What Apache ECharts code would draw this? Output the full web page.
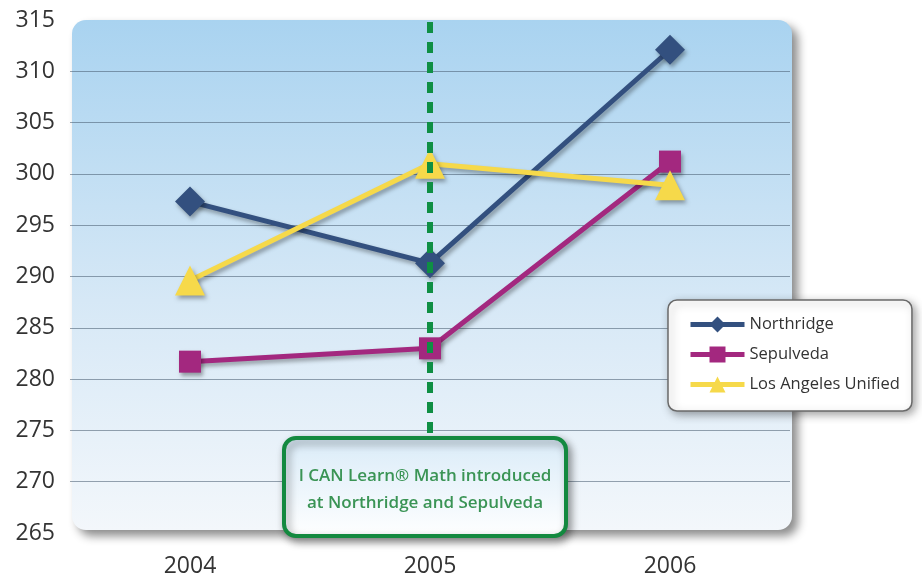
<!DOCTYPE html>
<html><head><meta charset="utf-8">
<script src="https://cdn.jsdelivr.net/npm/echarts@6/dist/echarts.min.js"></script>
<style>html,body{margin:0;padding:0;background:#fff}#c{width:922px;height:581px}</style>
</head><body><div id="c"></div>
<script>
var years = ['2004', '2005', '2006'];
var northridge = [297.3, 291.3, 312.1];
var sepulveda = [281.7, 283.0, 301.2];
var lausd = [289.6, 301.0, 298.9];
var yMin = 265, yMax = 315, yStep = 5;
var calloutLines = ['I CAN Learn\u00AE Math introduced', 'at Northridge and Sepulveda'];

var chart = echarts.init(document.getElementById('c'));
var font = 'Open Sans';
function lineSeries(name, data, color, symbol, size) {
  return {
    name: name, type: 'line', data: data, symbol: symbol, symbolSize: size,
    lineStyle: {color: color, width: 5, shadowColor: 'rgba(0,0,0,0.35)', shadowBlur: 4, shadowOffsetX: 2, shadowOffsetY: 3},
    itemStyle: {color: color, shadowColor: 'rgba(0,0,0,0.35)', shadowBlur: 4, shadowOffsetX: 2, shadowOffsetY: 3},
    z: 3
  };
}
var sN = lineSeries('Northridge', northridge, '#33507f', 'diamond', 30);
sN.markLine = {
  silent: true, symbol: 'none', label: {show: false},
  lineStyle: {color: '#0f8f44', width: 6, type: [11, 9]},
  data: [{xAxis: '2005'}]
};
var sS = lineSeries('Sepulveda', sepulveda, '#a3287f', 'rect', 22);
var sL = lineSeries('Los Angeles Unified', lausd, '#f6d94a', 'triangle', 30);

var nLines = (yMax - yMin) / yStep + 1;
var gridColors = [];
for (var i = 0; i < nLines; i++) {
  gridColors.push(i === 0 || i === nLines - 1 ? 'rgba(0,0,0,0)' : 'rgba(70,90,110,0.55)');
}

chart.setOption({
  backgroundColor: '#ffffff',
  animation: false,
  textStyle: {fontFamily: font},
  grid: {left: 70, right: 132, top: 20, bottom: 48},
  xAxis: {
    type: 'category', data: years, boundaryGap: true,
    axisLine: {show: false}, axisTick: {show: false},
    axisLabel: {color: '#333', fontSize: 23, margin: 22, fontFamily: font}
  },
  yAxis: {
    type: 'value', min: yMin, max: yMax, interval: yStep,
    axisLine: {show: false}, axisTick: {show: false},
    axisLabel: {color: '#333', fontSize: 23, margin: 15, fontFamily: font},
    splitLine: {lineStyle: {color: gridColors, width: 1.2}}
  },
  legend: {
    orient: 'vertical', left: 668, top: 300,
    data: ['Northridge', 'Sepulveda', 'Los Angeles Unified'],
    itemWidth: 54, itemHeight: 20, itemGap: 13,
    lineStyle: {width: 5},
    backgroundColor: '#ffffff', borderColor: '#6a6a6a', borderWidth: 1.5, borderRadius: 9,
    padding: [16, 12, 18, 20],
    shadowColor: 'rgba(0,0,0,0.35)', shadowBlur: 8, shadowOffsetX: 3, shadowOffsetY: 3,
    textStyle: {color: '#333', fontSize: 16.5, fontFamily: font}
  },
  graphic: [
    {
      type: 'rect', z: -10, silent: true,
      shape: {x: 72, y: 20, width: 720, height: 510, r: 14},
      style: {
        fill: new echarts.graphic.LinearGradient(0, 0, 0, 1, [
          {offset: 0, color: '#a9d3f0'}, {offset: 0.55, color: '#d6e8f6'}, {offset: 1, color: '#f3f7fb'}
        ]),
        shadowColor: 'rgba(0,0,0,0.45)', shadowBlur: 10, shadowOffsetX: 6, shadowOffsetY: 6
      }
    },
    {
      type: 'group', z: 100,
      children: [
        {
          type: 'rect', z: 100,
          shape: {x: 284, y: 438, width: 282, height: 98, r: 12},
          style: {
            fill: new echarts.graphic.LinearGradient(0, 0, 0, 1, [
              {offset: 0, color: '#d9ebf8'}, {offset: 1, color: '#ffffff'}
            ]),
            stroke: '#13893f', lineWidth: 4,
            shadowColor: 'rgba(0,0,0,0.4)', shadowBlur: 8, shadowOffsetX: 3, shadowOffsetY: 4
          }
        },
        {
          type: 'text', z: 101,
          style: {x: 425, y: 476, text: calloutLines[0], fill: '#3a9455', fontSize: 17, fontWeight: 600, fontFamily: font, align: 'center', verticalAlign: 'middle'}
        },
        {
          type: 'text', z: 101,
          style: {x: 425, y: 503, text: calloutLines[1], fill: '#3a9455', fontSize: 17, fontWeight: 600, fontFamily: font, align: 'center', verticalAlign: 'middle'}
        }
      ]
    }
  ],
  series: [sN, sS, sL]
});
</script></body></html>
